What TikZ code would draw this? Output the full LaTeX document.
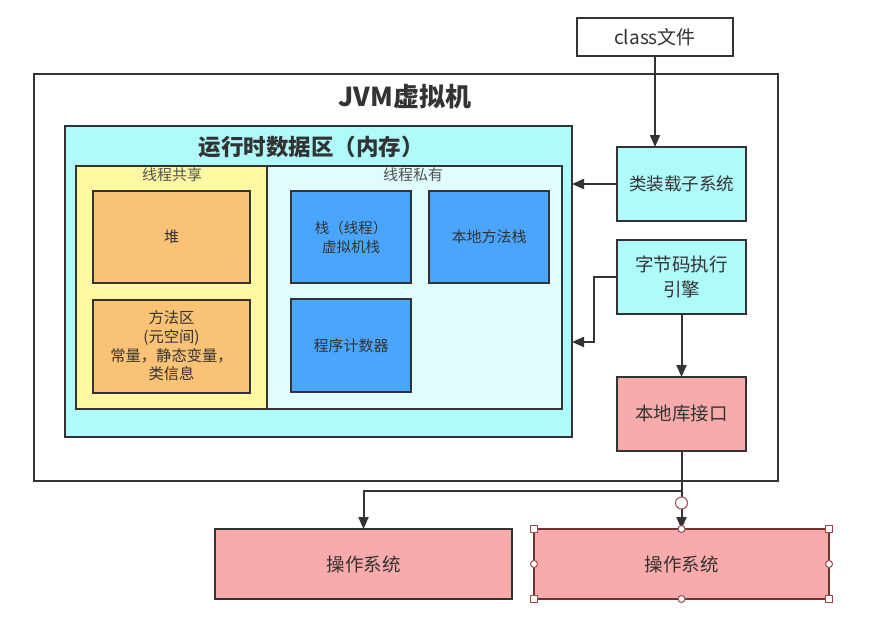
\documentclass[tikz,border=0pt]{standalone}
\usepackage{fontspec}
\setmainfont{Noto Sans CJK SC}
\usetikzlibrary{arrows.meta}
\definecolor{cyanbox}{HTML}{AFFAFB}
\definecolor{lcyan}{HTML}{E0FCFD}
\definecolor{yel}{HTML}{FFF8A3}
\definecolor{orng}{HTML}{FAC274}
\definecolor{blu}{HTML}{4AA6FC}
\definecolor{pnk}{HTML}{F9AAAA}
\definecolor{edge}{HTML}{333333}
\definecolor{txt}{HTML}{333333}
\definecolor{handle}{HTML}{A04848}
\begin{document}
\begin{tikzpicture}[x=1pt,y=-1pt,
  bw/.style={minimum width=#1},
  bh/.style={minimum height=#1},
  box/.style={draw=edge, line width=2pt, inner sep=0pt, outer sep=0pt, text=txt, align=center},
  thin/.style={draw=edge, line width=1.3pt, inner sep=0pt, outer sep=0pt},
  arr/.style={draw=edge, line width=2pt, -{Triangle[length=12pt,width=10pt]}},
  hsq/.style={draw=handle, fill=white, line width=1pt, minimum size=7pt, inner sep=0pt},
  hci/.style={circle, draw=handle, fill=white, line width=1pt, minimum size=7pt, inner sep=0pt},
  lbl/.style={text=txt, inner sep=0pt, align=center}]
\useasboundingbox[fill=white] (0,0) rectangle (875,626);

% outer JVM box
\node[box, bw=744, bh=407] (jvm) at (406,277.5) {};
\node[lbl, font=\fontsize{26}{30}\selectfont\bfseries] (jvmt) at (405,97) {JVM虚拟机};

% class file
\node[box, fill=white, bw=156, bh=38, font=\fontsize{19}{22}\selectfont] (cls) at (655,37) {class文件};

% runtime data area
\node[box, fill=cyanbox, bw=507, bh=311] (rt) at (318.5,281.5) {};
\node[lbl, font=\fontsize{22.5}{26}\selectfont\bfseries] (rtt) at (311,147) {运行时数据区（内存）};

\node[thin, fill=yel, bw=191, bh=243] (sh) at (171.5,287.5) {};
\node[thin, fill=lcyan, bw=295, bh=243] (pv) at (414.5,287.5) {};
\node[lbl, text=txt!85, font=\fontsize{15}{18}\selectfont] (sht) at (172,175) {线程共享};
\node[lbl, text=txt!85, font=\fontsize{15}{18}\selectfont] (pvt) at (413,175) {线程私有};

\node[box, fill=orng, bw=157, bh=92, font=\fontsize{15}{18}\selectfont] (heap) at (171.5,237) {堆};
\node[box, fill=orng, bw=157, bh=93, font=\fontsize{15.3}{18.7}\selectfont] (meth) at (171.5,346)
  {方法区\\(元空间)\\常量，静态变量，\\类信息};
\node[box, fill=blu, bw=120, bh=92, font=\fontsize{14.5}{19}\selectfont] (stk) at (351,237) {栈（线程）\\虚拟机栈};
\node[box, fill=blu, bw=120, bh=92, font=\fontsize{15}{18}\selectfont] (nstk) at (489,237) {本地方法栈};
\node[box, fill=blu, bw=120, bh=93, font=\fontsize{15}{18}\selectfont] (pc) at (351,345.5) {程序计数器};

% right column
\node[box, fill=cyanbox, bw=129, bh=74, font=\fontsize{17.5}{20}\selectfont] (load) at (681.5,184) {类装载子系统};
\node[box, fill=cyanbox, bw=129, bh=74, font=\fontsize{18.5}{25}\selectfont] (exec) at (681.5,277) {字节码执行\\引擎};
\node[box, fill=pnk, bw=129, bh=74, font=\fontsize{18.5}{22}\selectfont] (lib) at (681.5,414) {本地库接口};

% operating systems
\node[box, fill=pnk, bw=297, bh=70, font=\fontsize{18.5}{22}\selectfont] (os1) at (363.5,564) {操作系统};
\node[box, draw=handle!70!black, fill=pnk, bw=295, bh=70, font=\fontsize{18.5}{22}\selectfont] (os2) at (681.5,564) {操作系统};

% connectors
\draw[arr] (cls.south) -- (cls.south |- load.north);
\draw[arr] (load.west) -- (load.west -| rt.east);
\coordinate (e1) at (594,277);
\coordinate (e2) at (594,342);
\draw[arr] (exec.west) -- (e1) -- (e2) -- (e2 -| rt.east);
\draw[arr] (exec.south) -- (lib.north);
\coordinate (j) at (681.5,491);
\draw[draw=edge, line width=2pt] (lib.south) -- (j);
\draw[arr] (j) -| (os1.north);
\draw[arr] (j) -- (os2.north);

% selection handles
\node[hci, minimum width=10pt, minimum height=12pt] (hc) at (681.5,503) {};
\node[hsq] (h1) at (os2.north west) {};
\node[hsq] (h2) at (os2.north east) {};
\node[hsq] (h3) at (os2.south west) {};
\node[hsq] (h4) at (os2.south east) {};
\node[hci] (h5) at (os2.north) {};
\node[hci] (h6) at (os2.south) {};
\node[hci] (h7) at (os2.west) {};
\node[hci] (h8) at (os2.east) {};
\end{tikzpicture}
\end{document}
